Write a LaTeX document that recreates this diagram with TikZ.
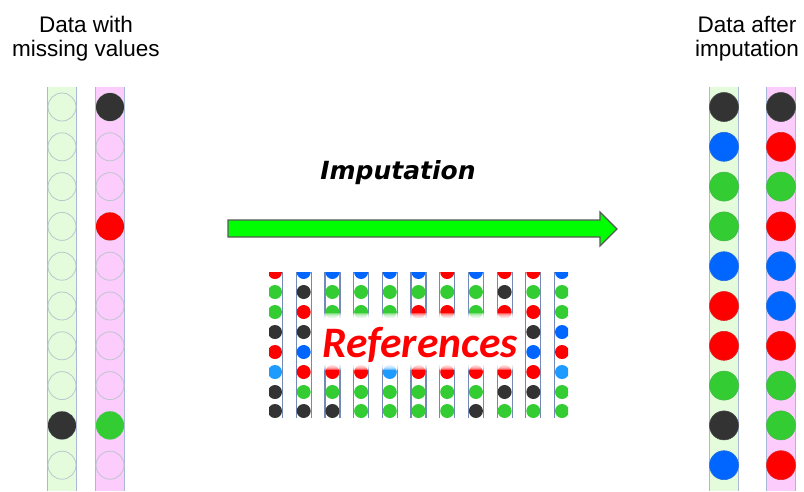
\documentclass[tikz,border=0pt]{standalone}
\usepackage{fontspec}
\setmainfont{Liberation Sans}
\newfontfamily\arrowfont{DejaVu Sans}
\newfontfamily\reffont{Carlito}

\definecolor{dk}{HTML}{333333}
\definecolor{bl}{HTML}{0066FF}
\definecolor{rd}{HTML}{FF0000}
\definecolor{gr}{HTML}{33CC33}
\definecolor{lb}{HTML}{1E9BFF}
\definecolor{tubeedge}{HTML}{A9B8D6}
\definecolor{gridedge}{HTML}{7489B6}
\definecolor{greencol}{HTML}{E4FCDC}
\definecolor{pinkcol}{HTML}{FCCCFC}
\definecolor{emptyring}{HTML}{BCC6CE}
\definecolor{arrowgreen}{HTML}{00FF00}

% one row of small dots in the reference panel: y position, list of colours
\newcommand\dotrow[2]{%
  \foreach \c [count=\i from 0] in {#2} {%
    \path[fill=\c] (275+28.7*\i,#1) circle[radius=7pt];%
  }%
}

\tikzset{
  title/.style={font=\fontsize{22.5}{27}\selectfont, anchor=base, inner sep=0pt},
  tubeline/.style={draw=tubeedge, line width=1.2pt},
  ring/.style={draw=emptyring, line width=0.8pt},
  fulldot/.style={line width=0.6pt},
  gridtube/.style={draw=gridedge, line width=1.2pt},
  bigarrow/.style={fill=arrowgreen, draw=black!65, line width=1.2pt, line join=miter},
}

\begin{document}
\begin{tikzpicture}[x=1pt,y=-1pt]
\useasboundingbox (0,0) rectangle (804,491);

% column titles
\node[title] (lt1) at (86,32) {Data with};
\node[title] (lt2) at (86,56) {missing values};
\node[title] (rt1) at (747,32) {Data after};
\node[title] (rt2) at (747,56) {imputation};

% data columns
\foreach \cx/\fc in {62/greencol,110/pinkcol,724/greencol,781/pinkcol}{
  \fill[\fc] (\cx-14.5,87) rectangle (\cx+14.5,491);
  \draw[tubeline] (\cx-14.5,87) -- (\cx-14.5,491) (\cx+14.5,87) -- (\cx+14.5,491);
}

% missing values: empty slots
\foreach \r in {0,...,9}{
  \draw[ring] (62,107+39.8*\r) circle[radius=14pt];
  \draw[ring] (110,107+39.8*\r) circle[radius=14pt];
}
% observed values
\fill[dk] (62,107+39.8*8) circle[radius=14pt];
\fill[dk] (110,107) circle[radius=14pt];
\fill[rd] (110,107+39.8*3) circle[radius=14pt];
\fill[gr] (110,107+39.8*8) circle[radius=14pt];

% imputed columns
\foreach \c [count=\r from 0] in {dk,bl,gr,gr,bl,rd,rd,gr,dk,bl}{
  \draw[fulldot, fill=\c, draw=\c!75!gray] (724,107+39.8*\r) circle[radius=14.5pt];
}
\foreach \c [count=\r from 0] in {dk,rd,gr,rd,bl,bl,rd,gr,gr,rd}{
  \draw[fulldot, fill=\c, draw=\c!75!gray] (781,107+39.8*\r) circle[radius=14.5pt];
}

% imputation arrow
\node[font=\arrowfont\bfseries\itshape\fontsize{25}{30}\selectfont, anchor=base, inner sep=0pt] (imp) at (398,179) {Imputation};
\draw[bigarrow] (228,220) -- (600,220) -- (600,212) -- (617,229) -- (600,246) -- (600,237) -- (228,237) -- cycle;

% reference panel
\begin{scope}
  \clip (269,272) rectangle (568,417);
  \foreach \i in {0,...,10}{
    \draw[gridtube] (275+28.7*\i-7.5,260) -- (275+28.7*\i-7.5,430)
                    (275+28.7*\i+7.5,260) -- (275+28.7*\i+7.5,430);
  }
  \dotrow{272}{rd,bl,bl,bl,bl,bl,rd,bl,rd,rd,bl}
  \dotrow{292}{gr,dk,gr,gr,gr,gr,gr,gr,dk,gr,gr}
  \dotrow{312}{gr,rd,gr,gr,gr,rd,rd,gr,rd,rd,gr}
  \dotrow{332}{dk,dk,none,none,none,none,none,none,none,dk,bl}
  \dotrow{352}{rd,bl,none,none,none,none,none,none,none,bl,rd}
  \dotrow{372}{lb,rd,rd,rd,lb,rd,rd,rd,rd,rd,lb}
  \dotrow{392}{dk,gr,gr,gr,gr,gr,gr,gr,dk,dk,gr}
  \dotrow{411}{dk,dk,dk,gr,gr,gr,gr,dk,gr,gr,gr}
\end{scope}
% soft white label field
\foreach \d in {5,4,3,2,1}{
  \fill[white, opacity=0.35] (318-\d,318-\d) rectangle (520+\d,365+\d);
}
\fill[white] (318,318) rectangle (520,365);
\node[font=\reffont\bfseries\itshape\fontsize{43.5}{50}\selectfont, text=rd, anchor=base, inner sep=0pt] (refs) at (420,357) {References};

\end{tikzpicture}
\end{document}
